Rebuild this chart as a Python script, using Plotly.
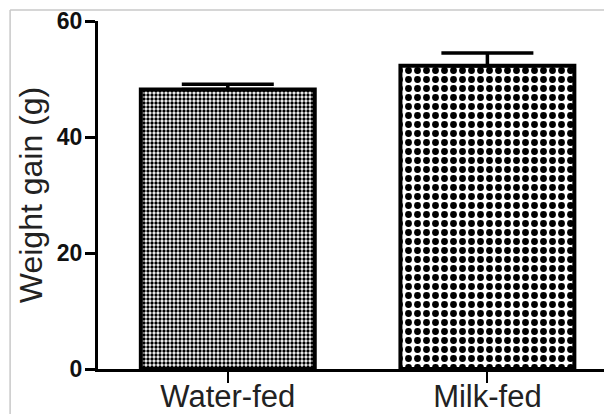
import plotly.graph_objects as go

categories = ["Water-fed", "Milk-fed"]
means = [48.2, 52.3]
sem_up = [0.9, 2.2]
pattern_sizes = [4, 9]
pattern_solidity = [0.55, 0.45]
y_ticks = [0, 20, 40, 60]

fig = go.Figure()
for i, cat in enumerate(categories):
    fig.add_trace(go.Bar(
        x=[cat], y=[means[i]],
        width=0.67,
        marker=dict(
            color="white",
            line=dict(color="black", width=4),
            pattern=dict(shape=".", fgcolor="black", bgcolor="white", fgopacity=1,
                         size=pattern_sizes[i], solidity=pattern_solidity[i],
                         fillmode="replace"),
        ),
        error_y=dict(type="data", symmetric=False, array=[sem_up[i]], arrayminus=[0],
                     color="black", thickness=3.5, width=46),
        showlegend=False,
    ))

font_family = "Liberation Sans, Arial, sans-serif"
# page body has an 8px default margin, so the figure is sized to fit the window
fig.update_layout(
    width=604, height=406,
    margin=dict(l=90, r=0, t=13, b=45),
    paper_bgcolor="white", plot_bgcolor="white",
    font=dict(family=font_family, color="#222"),
    xaxis=dict(
        range=[-0.5, 1.48], showline=True, linecolor="black", linewidth=3,
        ticks="outside", ticklen=11, tickwidth=2, tickcolor="black",
        tickfont=dict(size=31, color="#222", family=font_family),
        ticklabelstandoff=-13,
        showgrid=False, zeroline=False, automargin=False,
    ),
    yaxis=dict(
        range=[0, 60], tickvals=y_ticks, showline=True, linecolor="black", linewidth=3,
        ticks="outside", ticklen=10, tickwidth=3, tickcolor="black",
        tickfont=dict(size=23, color="#111", family=font_family, weight="bold"),
        ticklabelstandoff=-2,
        showgrid=False, zeroline=False, automargin=False,
        title=dict(text="Weight gain (g)", font=dict(size=32, color="#222", family=font_family),
                   standoff=5),
    ),
    shapes=[
        dict(type="line", xref="paper", yref="paper", x0=-0.171, x1=1.0, y0=1.0316, y1=1.0316,
             line=dict(color="#c8c8c8", width=1.5)),
        dict(type="line", xref="paper", yref="paper", x0=-0.171, x1=-0.171, y0=1.0316, y1=-0.14,
             line=dict(color="#c8c8c8", width=1.5)),
    ],
)

fig.write_html("out.html")
